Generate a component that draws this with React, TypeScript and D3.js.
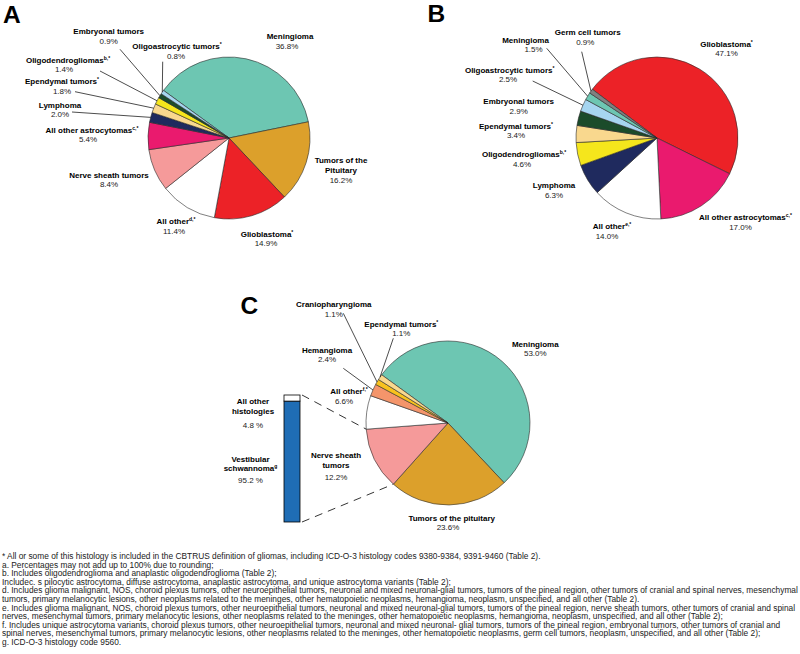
import React from "react";
import * as d3 from "d3";

// ---------- DATA ----------
const pieANames = ["Meningioma", "Tumors of the Pituitary", "Glioblastoma", "All other", "Nerve sheath tumors", "All other astrocytomas", "Lymphoma", "Ependymal tumors", "Oligodendrogliomas", "Embryonal tumors", "Oligoastrocytic tumors"];
const pieAValues = [36.8, 16.2, 14.9, 11.4, 8.4, 5.4, 2.0, 1.8, 1.4, 0.9, 0.8];
const pieASup = ["", "", "*", "d,*", "", "c,*", "", "*", "b,*", "", "*"];

const pieBNames = ["Glioblastoma", "All other astrocytomas", "All other", "Lymphoma", "Oligodendrogliomas", "Ependymal tumors", "Embryonal tumors", "Oligoastrocytic tumors", "Meningioma", "Germ cell tumors"];
const pieBValues = [47.1, 17.0, 14.0, 6.3, 4.6, 3.4, 2.9, 2.5, 1.5, 0.9];
const pieBSup = ["*", "c,*", "e,*", "", "b,*", "*", "", "*", "", ""];

const pieCNames = ["Meningioma", "Tumors of the pituitary", "Nerve sheath tumors", "All other", "Hemangioma", "Craniopharyngioma", "Ependymal tumors"];
const pieCValues = [53.0, 23.6, 12.2, 6.6, 2.4, 1.1, 1.1];
const pieCSup = ["", "", "", "f,*", "", "", "*"];

const barNames = ["Vestibular schwannoma", "All other histologies"];
const barValues = [95.2, 4.8];
const barSup = ["g", ""];

const footnotes = [
  "* All or some of this histology is included in the CBTRUS definition of gliomas, including ICD-O-3 histology codes 9380-9384, 9391-9460 (Table 2).",
  "a. Percentages may not add up to 100% due to rounding;",
  "b. Includes oligodendroglioma and anaplastic oligodendroglioma (Table 2);",
  "Includec. s pilocytic astrocytoma, diffuse astrocytoma, anaplastic astrocytoma, and unique astrocytoma variants (Table 2);",
  "d. Includes glioma malignant, NOS, choroid plexus tumors, other neuroepithelial tumors, neuronal and mixed neuronal-glial tumors, tumors of the pineal region, other tumors of cranial and spinal nerves, mesenchymal",
  "tumors, primary melanocytic lesions, other neoplasms related to the meninges, other hematopoietic neoplasms, hemangioma, neoplasm, unspecified, and all other (Table 2).",
  "e. Includes glioma malignant, NOS, choroid plexus tumors, other neuroepithelial tumors, neuronal and mixed neuronal-glial tumors, tumors of the pineal region, nerve sheath tumors, other tumors of cranial and spinal",
  "nerves, mesenchymal tumors, primary melanocytic lesions, other neoplasms related to the meninges, other hematopoietic neoplasms, hemangioma, neoplasm, unspecified, and all other (Table 2);",
  "f. Includes unique astrocytoma variants, choroid plexus tumors, other neuroepithelial tumors, neuronal and mixed neuronal- glial tumors, tumors of the pineal region, embryonal tumors, other tumors of cranial and",
  "spinal nerves, mesenchymal tumors, primary melanocytic lesions, other neoplasms related to the meninges, other hematopoietic neoplasms, germ cell tumors, neoplasm, unspecified, and all other (Table 2);",
  "g. ICD-O-3 histology code 9560.",
];

// ---------- STYLES ----------
const colorMap: Record<string, string> = {
  "Meningioma": "#6dc6b2",
  "Tumors of the Pituitary": "#dca02b",
  "Tumors of the pituitary": "#dca02b",
  "Glioblastoma": "#ec2227",
  "All other": "#ffffff",
  "Nerve sheath tumors": "#f59a9a",
  "All other astrocytomas": "#ea1a6e",
  "Lymphoma": "#1f2a5e",
  "Ependymal tumors": "#f9d88e",
  "Oligodendrogliomas": "#f5e61c",
  "Embryonal tumors": "#1b4b2a",
  "Oligoastrocytic tumors": "#a6d5f0",
  "Germ cell tumors": "#808080",
  "Hemangioma": "#f4956b",
  "Craniopharyngioma": "#f8c21e",
  "Vestibular schwannoma": "#1f6db5",
  "All other histologies": "#ffffff",
};

const FONT = "'Liberation Sans', Arial, Helvetica, sans-serif";
const LH = 9.6;

type LabelPos = { lines: string[]; x: number; y: number; px?: number; py?: number; lead?: [number, number] };

// label layouts (same order as data arrays)
const layoutA: LabelPos[] = [
  { lines: ["Meningioma"], x: 290, y: 39, px: 287 },
  { lines: ["Tumors of the", "Pituitary"], x: 341, y: 163.3 },
  { lines: ["Glioblastoma"], x: 267, y: 236.7, px: 266 },
  { lines: ["All other"], x: 176, y: 224, px: 174 },
  { lines: ["Nerve sheath tumors"], x: 109, y: 177.7 },
  { lines: ["All other astrocytomas"], x: 92, y: 132.8, px: 88 },
  { lines: ["Lymphoma"], x: 60, y: 107.7, lead: [72, 112] },
  { lines: ["Ependymal tumors"], x: 62, y: 84.3, lead: [75, 91.7] },
  { lines: ["Oligodendrogliomas"], x: 68, y: 62.7, px: 64, lead: [100, 71] },
  { lines: ["Embryonal tumors"], x: 108.7, y: 34.3, lead: [120, 49.3] },
  { lines: ["Oligoastrocytic tumors"], x: 177, y: 49, px: 176, lead: [162.7, 61.7] },
];
const layoutB: LabelPos[] = [
  { lines: ["Glioblastoma"], x: 726.5, y: 46.7 },
  { lines: ["All other astrocytomas"], x: 745.5, y: 220, px: 740.5 },
  { lines: ["All other"], x: 612, y: 229, px: 607 },
  { lines: ["Lymphoma"], x: 554, y: 188.3 },
  { lines: ["Oligodendrogliomas"], x: 524, y: 157.3, px: 522 },
  { lines: ["Ependymal tumors"], x: 516, y: 128.8 },
  { lines: ["Embryonal tumors"], x: 518.7, y: 104.3 },
  { lines: ["Oligoastrocytic tumors"], x: 509.7, y: 72.7, px: 508, lead: [532.7, 81] },
  { lines: ["Meningioma"], x: 525.5, y: 42.7, px: 533.5, lead: [546.7, 48.3] },
  { lines: ["Germ cell tumors"], x: 587.7, y: 35, px: 585.3, lead: [581.7, 51.7] },
];
const layoutC: LabelPos[] = [
  { lines: ["Meningioma"], x: 535.3, y: 346.7 },
  { lines: ["Tumors of the pituitary"], x: 451.7, y: 520.7, px: 448 },
  { lines: ["Nerve sheath", "tumors"], x: 336, y: 458.3, py: 479.5 },
  { lines: ["All other"], x: 349, y: 394, px: 344 },
  { lines: ["Hemangioma"], x: 327, y: 352.7, lead: [343.3, 368.3] },
  { lines: ["Craniopharyngioma"], x: 333.8, y: 307.3, lead: [343.3, 313.3] },
  { lines: ["Ependymal tumors"], x: 401.3, y: 326.7, lead: [393.3, 338.3] },
];
const layoutBar: LabelPos[] = [
  { lines: ["Vestibular", "schwannoma"], x: 250.5, y: 461.7, py: 483.3 },
  { lines: ["All other", "histologies"], x: 253, y: 404, py: 428.3 },
];

const fmtPct = (v: number) => d3.format(".1f")(v) + "%";
const fmtBarPct = (v: number) => d3.format(".1f")(v) + " %";

function Label({ pos, sup, pct, pctColor = "#222" }: { pos: LabelPos; sup: string; pct: string; pctColor?: string }) {
  const last = pos.lines.length - 1;
  const py = pos.py ?? pos.y + pos.lines.length * LH;
  return (
    <g fontFamily={FONT} fontSize={8}>
      {pos.lines.map((l, i) => (
        <text key={i} x={pos.x} y={pos.y + i * LH} textAnchor="middle" fontWeight="bold" fill="#000">
          {l}
          {i === last && sup ? (
            <tspan fontSize={5} dy={-3}>{sup}</tspan>
          ) : null}
        </text>
      ))}
      <text x={pos.px ?? pos.x} y={py} textAnchor="middle" fill={pctColor}>{pct}</text>
    </g>
  );
}

function Pie({ names, values, sups, layout, cx, cy, r, startDeg }: {
  names: string[]; values: number[]; sups: string[]; layout: LabelPos[]; cx: number; cy: number; r: number; startDeg: number;
}) {
  const start = (startDeg * Math.PI) / 180;
  const pie = d3.pie<number>().sort(null).value((d) => d).startAngle(start).endAngle(start + 2 * Math.PI);
  const arcs = pie(values);
  const arc = d3.arc<d3.PieArcDatum<number>>().innerRadius(0).outerRadius(r);
  return (
    <g>
      <g transform={`translate(${cx},${cy})`}>
        {arcs.map((a, i) => (
          <path key={i} d={arc(a) || ""} fill={colorMap[names[i]]} stroke="#2a2a2a" strokeWidth={0.6} />
        ))}
      </g>
      {arcs.map((a, i) => {
        const pos = layout[i];
        if (!pos.lead) return null;
        const m = (a.startAngle + a.endAngle) / 2;
        const ex = cx + Math.sin(m) * r;
        const ey = cy - Math.cos(m) * r;
        return <line key={"l" + i} x1={pos.lead[0]} y1={pos.lead[1]} x2={ex} y2={ey} stroke="#000" strokeWidth={0.7} />;
      })}
      {arcs.map((a, i) => (
        <Label key={"t" + i} pos={layout[i]} sup={sups[i]} pct={fmtPct(values[i])} />
      ))}
    </g>
  );
}

export default function App() {
  // pie C geometry for connectors
  const cC = { cx: 448, cy: 423, r: 82, startDeg: -54 };
  const startC = (cC.startDeg * Math.PI) / 180;
  const arcsC = d3.pie<number>().sort(null).value((d) => d).startAngle(startC).endAngle(startC + 2 * Math.PI)(pieCValues);
  const nerve = arcsC[2];
  const pt = (ang: number) => [cC.cx + Math.sin(ang) * cC.r, cC.cy - Math.cos(ang) * cC.r];
  const [nsX, nsY] = pt(nerve.startAngle);
  const [neX, neY] = pt(nerve.endAngle);

  // stacked bar
  const barX0 = 284, barW = 16;
  const yBar = d3.scaleLinear().domain([0, d3.sum(barValues)]).range([522, 395]);
  let acc = 0;
  const segs = barValues.map((v) => {
    const s = { y0: acc, y1: acc + v };
    acc += v;
    return s;
  });

  return (
    <div style={{ position: "absolute", left: 0, top: 0 }}>
      <svg width={800} height={654} style={{ display: "block", background: "#fff" }}>
        <rect x={0} y={0} width={800} height={654} fill="#fff" />
        {/* Panel letters */}
        <g fontFamily={FONT} fontWeight="bold" fontSize={24.5} fill="#000">
          <text x={3} y={23}>A</text>
          <text x={427.5} y={22}>B</text>
          <text x={240.5} y={313.5}>C</text>
        </g>

        <Pie names={pieANames} values={pieAValues} sups={pieASup} layout={layoutA} cx={229} cy={138} r={81} startDeg={-54} />
        <Pie names={pieBNames} values={pieBValues} sups={pieBSup} layout={layoutB} cx={657} cy={138} r={81} startDeg={-53} />
        <Pie names={pieCNames} values={pieCValues} sups={pieCSup} layout={layoutC} cx={cC.cx} cy={cC.cy} r={cC.r} startDeg={cC.startDeg} />

        {/* connectors */}
        <line x1={barX0 + barW + 2} y1={yBar(d3.sum(barValues))} x2={neX} y2={neY} stroke="#000" strokeWidth={0.8} strokeDasharray="8,6" />
        <line x1={barX0 + barW + 2} y1={yBar(0)} x2={nsX} y2={nsY} stroke="#000" strokeWidth={0.8} strokeDasharray="8,6" />

        {/* stacked bar */}
        {segs.map((s, i) => (
          <rect key={i} x={barX0} y={yBar(s.y1)} width={barW} height={yBar(s.y0) - yBar(s.y1)} fill={colorMap[barNames[i]]} stroke="#000" strokeWidth={0.8} />
        ))}
        {barValues.map((v, i) => (
          <Label key={"b" + i} pos={layoutBar[i]} sup={barSup[i]} pct={fmtBarPct(v)} />
        ))}

        {/* footnotes */}
        <g fontFamily={FONT} fontSize={8.35} fill="#222">
          {footnotes.map((f, i) => (
            <text key={i} x={2} y={559 + i * 8.6}>{f}</text>
          ))}
        </g>
      </svg>
    </div>
  );
}
